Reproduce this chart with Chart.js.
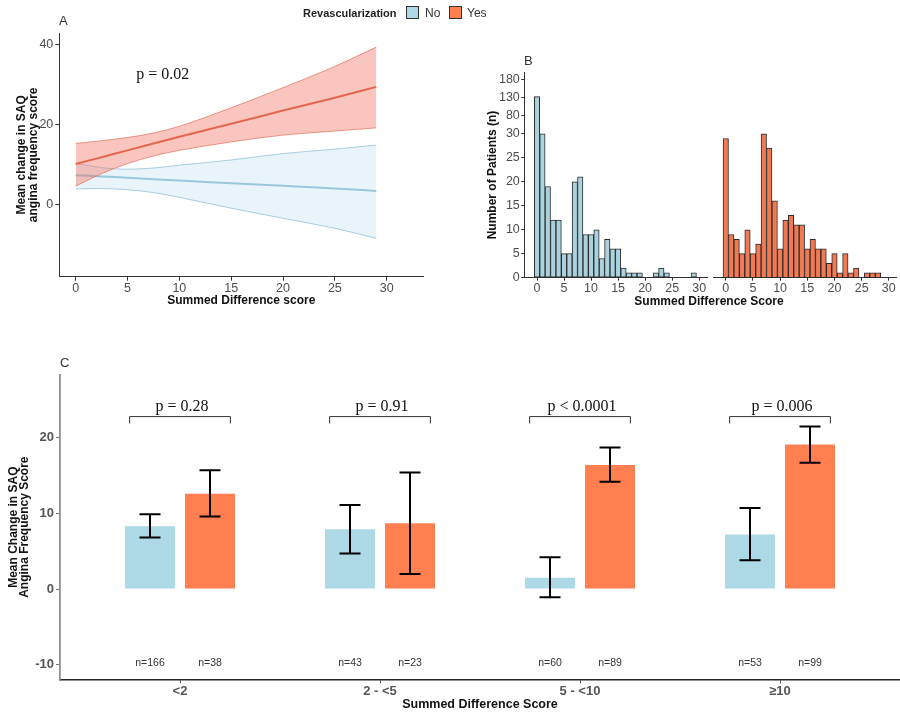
<!DOCTYPE html>
<html lang="en">
<head>
<meta charset="utf-8">
<title>Revascularization and SAQ angina frequency</title>
<script src="https://cdn.jsdelivr.net/npm/chart.js"></script>
<style>
    body { margin: 0; background: #fff; font-family: "Liberation Sans", Arial, sans-serif; }
    #figura { position: relative; width: 900px; height: 717px; overflow: hidden; }
    canvas { position: absolute; }
    .texto { position: absolute; white-space: nowrap; color: #333; line-height: 1; }
    .caja { position: absolute; width: 13px; height: 13px; border: 1px solid #333; box-sizing: border-box; }
</style>
</head>
<body>
<div id="figura">
    <canvas id="graficoA" width="440" height="320" style="left:0;top:0"></canvas>
    <canvas id="histoNo" width="240" height="275" style="left:470px;top:40px"></canvas>
    <canvas id="histoSi" width="190" height="275" style="left:710px;top:40px"></canvas>
    <canvas id="graficoC" width="900" height="377" style="left:0;top:340px"></canvas>

    <div class="texto" style="left:59px;top:14px;font-size:13px">A</div>
    <div class="texto" style="left:524px;top:54px;font-size:13px">B</div>
    <div class="texto" style="left:60px;top:356px;font-size:13px">C</div>

    <div class="texto" style="left:303px;top:8px;font-size:11px;font-weight:bold;color:#222">Revascularization</div>
    <div class="caja" style="left:406px;top:6px;background:#add8e6"></div>
    <div class="texto" style="left:425px;top:7px;font-size:12px">No</div>
    <div class="caja" style="left:449px;top:6px;background:#ff7f50"></div>
    <div class="texto" style="left:467px;top:7px;font-size:12px">Yes</div>

    <div class="texto" style="left:709px;top:295px;font-size:12px;font-weight:bold;color:#111;transform:translateX(-50%)">Summed Difference Score</div>
</div>

<script>
// ---- Panel A: curvas ajustadas con banda de confianza ----
const puntosX = [0, 2.5, 5, 7.5, 10, 15, 20, 25, 29];
const siMedia = [10.2, 11.9, 13.6, 15.3, 17.0, 20.2, 23.5, 26.7, 29.4];
const siSup = [15.3, 16.0, 16.8, 17.9, 19.6, 24.2, 29.2, 34.5, 39.3];
const siInf = [4.7, 7.8, 10.3, 12.2, 13.6, 15.7, 17.4, 18.4, 19.2];
const noMedia = [7.4, 7.1, 6.8, 6.4, 6.1, 5.4, 4.8, 4.1, 3.5];
const noSup = [10.4, 9.3, 8.9, 9.2, 9.9, 11.2, 12.8, 13.9, 14.9];
const noInf = [4.0, 4.1, 3.8, 3.1, 1.9, -0.8, -3.3, -5.8, -8.3];
const ticksA_X = [0, 5, 10, 15, 20, 25, 30];
const ticksA_Y = [0, 20, 40];
const etiquetaP_A = "p = 0.02";

// ---- Panel B: histogramas ----
const binsHist = [0,1,2,3,4,5,6,7,8,9,10,11,12,13,14,15,16,17,18,19,20,21,22,23,24,25,26,27,28,29];
const pacientesNo = [133,30,19,12,12,5,5,20,21,9,9,10,4,8,6,6,2,1,1,1,0,0,1,2,1,0,0,0,0,1];
const pacientesSi = [29,9,8,5,10,5,7,30,27,16,6,12,13,11,11,6,8,6,6,3,5,1,5,1,2,0,1,1,1,0];
const ticksB_X = [0, 5, 10, 15, 20, 25, 30];
const ticksB_Y = [0, 5, 10, 15, 20, 25, 30, 80, 130, 180];

// ---- Panel C: barras por grupo ----
const grupos = ["<2", "2 - <5", "5 - <10", "≥10"];
const mediaNo = [8.3, 7.9, 1.5, 7.2];
const infNo = [6.8, 4.7, -1.1, 3.8];
const supNo = [9.9, 11.1, 4.2, 10.7];
const mediaSi = [12.6, 8.7, 16.4, 19.1];
const infSi = [9.6, 2.0, 14.2, 16.7];
const supSi = [15.7, 15.4, 18.7, 21.5];
const nNo = [166, 43, 60, 53];
const nSi = [38, 23, 89, 99];
const valoresP = ["p = 0.28", "p = 0.91", "p < 0.0001", "p = 0.006"];
const ticksC_Y = [-10, 0, 10, 20];

// eje y del histograma comprimido por encima de 30
const corte = 30;
const factor = 0.075;
function escala(v) {
    return v <= corte ? v : corte + (v - corte) * factor;
}

function pares(xs, ys) {
    return xs.map((x, i) => ({ x: x, y: ys[i] }));
}

const fuenteTick = { family: '"Liberation Sans Narrow", "Liberation Sans", Arial', size: 12.5 };
const fuenteTitulo = { family: '"Liberation Sans", Arial', size: 12, weight: "bold", lineHeight: 1 };
const sinLeyenda = { legend: { display: false }, tooltip: { enabled: false } };

Chart.defaults.font.family = '"Liberation Sans", Arial, sans-serif';

const textoP_A = {
    id: "textoP_A",
    afterDatasetsDraw(chart) {
        const { ctx, scales: { x, y } } = chart;
        ctx.save();
        ctx.font = '16px "Liberation Serif", "Times New Roman", serif';
        ctx.fillStyle = "#111";
        ctx.textAlign = "center";
        ctx.textBaseline = "middle";
        ctx.fillText(etiquetaP_A, x.getPixelForValue(8.4), y.getPixelForValue(32.5));
        ctx.restore();
    }
};

new Chart(document.getElementById("graficoA"), {
    type: "line",
    data: {
        datasets: [
            { data: pares(puntosX, siSup), borderColor: "rgba(222,110,90,0.7)", borderWidth: 1, backgroundColor: "rgba(245,110,95,0.4)", fill: "+1" },
            { data: pares(puntosX, siInf), borderColor: "rgba(222,110,90,0.7)", borderWidth: 1 },
            { data: pares(puntosX, siMedia), borderColor: "#da6244", borderWidth: 2 },
            { data: pares(puntosX, noSup), borderColor: "#a9cde0", borderWidth: 1, backgroundColor: "rgba(150,200,230,0.22)", fill: "+1" },
            { data: pares(puntosX, noInf), borderColor: "#a9cde0", borderWidth: 1 },
            { data: pares(puntosX, noMedia), borderColor: "#9cc6d8", borderWidth: 2 }
        ]
    },
    options: {
        responsive: false,
        animation: false,
        elements: { point: { radius: 0 }, line: { cubicInterpolationMode: "monotone", fill: false } },
        layout: { padding: { top: 33, right: 16.7, left: 0, bottom: 0 } },
        plugins: sinLeyenda,
        scales: {
            x: {
                type: "linear", min: -1.58, max: 33.53, offset: false,
                border: { color: "#333" },
                grid: { drawOnChartArea: false, color: "#333", tickLength: 4, offset: false },
                ticks: { color: "#4d4d4d", font: fuenteTick, padding: 0, autoSkip: false, maxRotation: 0 },
                afterBuildTicks: s => { s.ticks = ticksA_X.map(v => ({ value: v })); },
                afterFit: s => { s.height = 43.3; },
                title: { display: true, text: "Summed Difference score", color: "#111", font: fuenteTitulo, padding: { top: 0, bottom: 13 } }
            },
            y: {
                type: "linear", min: -17.85, max: 42.81,
                border: { color: "#333" },
                grid: { drawOnChartArea: false, color: "#333", tickLength: 4 },
                ticks: { color: "#4d4d4d", font: fuenteTick, padding: 2, autoSkip: false },
                afterBuildTicks: s => { s.ticks = ticksA_Y.map(v => ({ value: v })); },
                afterFit: s => { s.width = 59.3; },
                title: { display: true, text: ["Mean change in SAQ", "angina frequency score"], color: "#111", font: fuenteTitulo, padding: { top: 15.7, bottom: 0 } }
            }
        }
    },
    plugins: [textoP_A]
});

function ejeXHist() {
    return {
        type: "linear", min: -2.35, max: 31.45, offset: false,
        border: { color: "#333" },
        grid: { drawOnChartArea: false, color: "#333", tickLength: 3, offset: false },
        ticks: { color: "#4d4d4d", font: fuenteTick, padding: 0, autoSkip: false, maxRotation: 0 },
        afterBuildTicks: s => { s.ticks = ticksB_X.map(v => ({ value: v })); },
        afterFit: s => { s.height = 37.3; }
    };
}

function barrasHist(conteos, relleno) {
    return {
        data: binsHist.map((b, i) => ({ x: b, y: conteos[i] > 0 ? escala(conteos[i]) : null })),
        backgroundColor: relleno,
        borderColor: "#2b2b2b",
        borderWidth: 1,
        borderSkipped: false,
        barPercentage: 1,
        categoryPercentage: 1
    };
}

new Chart(document.getElementById("histoNo"), {
    type: "bar",
    data: { datasets: [barrasHist(pacientesNo, "#a9d2de")] },
    options: {
        responsive: false,
        animation: false,
        layout: { padding: { top: 32.3, right: 3, left: 0, bottom: 0 } },
        plugins: sinLeyenda,
        scales: {
            x: ejeXHist(),
            y: {
                type: "linear", min: 0, max: 42.8,
                border: { color: "#333" },
                grid: { drawOnChartArea: false, color: "#333", tickLength: 3 },
                ticks: { color: "#4d4d4d", font: fuenteTick, padding: 1.5, autoSkip: false, callback: (v, i) => ticksB_Y[i] },
                afterBuildTicks: s => { s.ticks = ticksB_Y.map(v => ({ value: escala(v) })); },
                afterFit: s => { s.width = 54.3; },
                title: { display: true, text: "Number of Patients (n)", color: "#111", font: fuenteTitulo, padding: { top: 17, bottom: 0 } }
            }
        }
    }
});

new Chart(document.getElementById("histoSi"), {
    type: "bar",
    data: { datasets: [barrasHist(pacientesSi, "#f27a52")] },
    options: {
        responsive: false,
        animation: false,
        layout: { padding: { top: 32.3, right: 3.3, left: 3, bottom: 0 } },
        plugins: sinLeyenda,
        scales: {
            x: ejeXHist(),
            y: { type: "linear", min: 0, max: 42.8, display: false }
        }
    }
});

const anotacionesC = {
    id: "anotacionesC",
    afterDatasetsDraw(chart) {
        const { ctx, scales: { x, y } } = chart;
        ctx.save();
        const limites = [[infNo, supNo, nNo], [infSi, supSi, nSi]];
        limites.forEach(([inf, sup, ns], d) => {
            chart.getDatasetMeta(d).data.forEach((barra, i) => {
                const yA = y.getPixelForValue(sup[i]);
                const yB = y.getPixelForValue(inf[i]);
                ctx.strokeStyle = "#000";
                ctx.lineWidth = 2;
                ctx.beginPath();
                ctx.moveTo(barra.x, yA); ctx.lineTo(barra.x, yB);
                ctx.moveTo(barra.x - 10.5, yA); ctx.lineTo(barra.x + 10.5, yA);
                ctx.moveTo(barra.x - 10.5, yB); ctx.lineTo(barra.x + 10.5, yB);
                ctx.stroke();

                ctx.font = '10.5px "Liberation Sans", Arial';
                ctx.fillStyle = "#333";
                ctx.textAlign = "center";
                ctx.textBaseline = "middle";
                ctx.fillText("n=" + ns[i], barra.x, y.getPixelForValue(-9.85));
            });
        });

        // corchetes y valores p
        grupos.forEach((g, i) => {
            const x1 = x.getPixelForValue(i + 1 - 0.252);
            const x2 = x.getPixelForValue(i + 1 + 0.252);
            const yH = y.getPixelForValue(22.8);
            const yT = y.getPixelForValue(21.9);
            ctx.strokeStyle = "#333";
            ctx.lineWidth = 1;
            ctx.beginPath();
            ctx.moveTo(x1, yT); ctx.lineTo(x1, yH); ctx.lineTo(x2, yH); ctx.lineTo(x2, yT);
            ctx.stroke();

            ctx.font = '16px "Liberation Serif", "Times New Roman", serif';
            ctx.fillStyle = "#111";
            ctx.textAlign = "center";
            ctx.textBaseline = "middle";
            ctx.fillText(valoresP[i], x.getPixelForValue(i + 1) + 2, y.getPixelForValue(24.05));
        });
        ctx.restore();
    }
};

const posGrupos = grupos.map((g, i) => i + 1);

new Chart(document.getElementById("graficoC"), {
    type: "bar",
    data: {
        datasets: [
            { label: "No", data: pares(posGrupos, mediaNo), backgroundColor: "#add8e6" },
            { label: "Yes", data: pares(posGrupos, mediaSi), backgroundColor: "#ff7f50" }
        ]
    },
    options: {
        responsive: false,
        animation: false,
        categoryPercentage: 0.6,
        barPercentage: 0.833,
        layout: { padding: { top: 35, right: 0, left: 0, bottom: 0 } },
        plugins: sinLeyenda,
        scales: {
            x: {
                type: "linear", min: 0.4, max: 4.6, offset: false,
                border: { color: "#222", width: 1.5 },
                grid: { drawOnChartArea: false, color: "#555", tickLength: 4, offset: false },
                ticks: { color: "#555", font: { size: 13, weight: "bold" }, padding: 0, autoSkip: false, maxRotation: 0, callback: v => grupos[v - 1] },
                afterBuildTicks: s => { s.ticks = posGrupos.map(v => ({ value: v })); },
                afterFit: s => { s.height = 37.7; },
                title: { display: true, text: "Summed Difference Score", color: "#111", font: { size: 12.5, weight: "bold", lineHeight: 1 }, padding: { top: 0, bottom: 5.75 } }
            },
            y: {
                type: "linear", min: -11.94, max: 28.3,
                border: { color: "#8f8f8f", width: 1.8 },
                grid: { drawOnChartArea: false, color: "#777", tickLength: 4 },
                ticks: { color: "#555", font: { size: 13, weight: "bold" }, padding: 2, autoSkip: false },
                afterBuildTicks: s => { s.ticks = ticksC_Y.map(v => ({ value: v })); },
                afterFit: s => { s.width = 60; },
                title: { display: true, text: ["Mean Change in SAQ", "Angina Frequency Score"], color: "#111", font: { size: 12, weight: "bold", lineHeight: 0.92 }, padding: { top: 7.8, bottom: 0 } }
            }
        }
    },
    plugins: [anotacionesC]
});
</script>
</body>
</html>
